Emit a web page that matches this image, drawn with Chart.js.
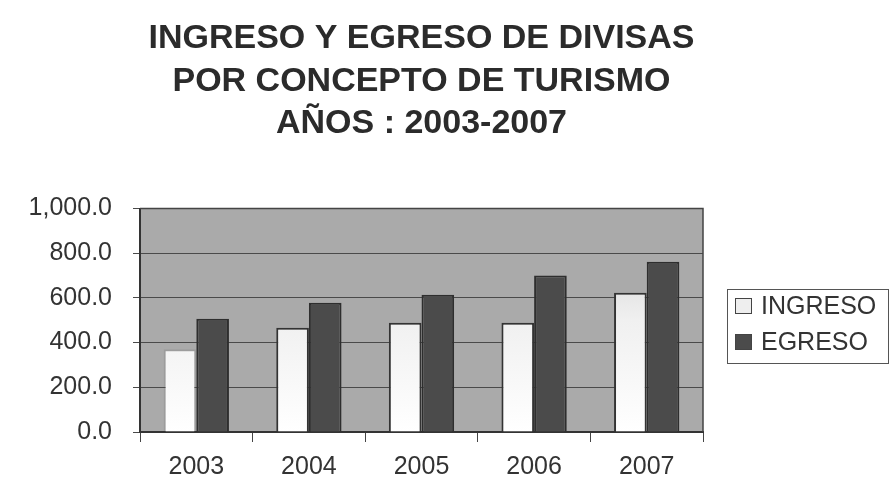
<!DOCTYPE html>
<html>
<head>
<meta charset="utf-8">
<title>Ingreso y egreso de divisas</title>
<script src="https://cdn.jsdelivr.net/npm/chart.js@4"></script>
<style>
  html, body { margin: 0; padding: 0; background: #fff; }
</style>
</head>
<body>
<canvas id="chart" width="894" height="486"></canvas>
<script>
// datos en millones
const years = ['2003', '2004', '2005', '2006', '2007'];
const ingreso = [370, 466, 489, 489, 623];
const egreso = [507, 578, 614, 700, 762];
const titleLines = ['INGRESO Y EGRESO DE DIVISAS', 'POR CONCEPTO DE TURISMO', 'AÑOS : 2003-2007'];

const FONT = '"Liberation Sans", Arial, sans-serif';

// fondo gris del área de trazado y marco
const plotFrame = {
  id: 'plotFrame',
  beforeDraw(chart) {
    const { ctx, chartArea: a } = chart;
    ctx.save();
    ctx.fillStyle = '#aaaaaa';
    ctx.fillRect(a.left, a.top, a.right - a.left, a.bottom - a.top);
    ctx.restore();
  },
  afterDraw(chart) {
    const { ctx, chartArea: a } = chart;
    ctx.save();
    ctx.strokeStyle = '#444';
    ctx.lineWidth = 1.5;
    ctx.beginPath();
    ctx.moveTo(a.left, a.top);
    ctx.lineTo(a.right, a.top);
    ctx.lineTo(a.right, a.bottom);
    ctx.stroke();
    ctx.restore();
  }
};

// leyenda con recuadro a la derecha
const sideLegend = {
  id: 'sideLegend',
  afterDraw(chart) {
    const ctx = chart.ctx;
    ctx.save();
    ctx.strokeStyle = '#555';
    ctx.lineWidth = 1;
    ctx.strokeRect(727.5, 289.5, 161, 74);
    ctx.font = '25px ' + FONT;
    ctx.textBaseline = 'middle';
    chart.data.datasets.forEach((ds, i) => {
      const y = 306 + i * 36;
      ctx.fillStyle = ds.legendFill;
      ctx.fillRect(735, y - 8, 17, 16);
      ctx.strokeStyle = '#444';
      ctx.strokeRect(735.5, y - 7.5, 16, 15);
      ctx.fillStyle = '#333';
      ctx.fillText(ds.label, 761, y + 1);
    });
    ctx.restore();
  }
};

function ingresoFill(context) {
  const a = context.chart.chartArea;
  if (!a) return '#f2f2f2';
  const g = context.chart.ctx.createLinearGradient(0, a.bottom, 0, a.top);
  g.addColorStop(0, '#ffffff');
  g.addColorStop(0.5, '#f0f0f0');
  g.addColorStop(1, '#c8c8c8');
  return g;
}

const ctx = document.getElementById('chart').getContext('2d');
new Chart(ctx, {
  type: 'bar',
  data: {
    labels: years,
    datasets: [{
      label: 'INGRESO',
      data: ingreso,
      backgroundColor: ingresoFill,
      borderColor: ['rgba(80,80,80,0.15)', '#333', '#333', '#333', '#333'],
      borderWidth: 2,
      legendFill: '#eeeeee',
      categoryPercentage: 0.58,
      barPercentage: 1.0
    }, {
      label: 'EGRESO',
      data: egreso,
      backgroundColor: '#4b4b4b',
      borderColor: '#2e2e2e',
      borderWidth: 2,
      legendFill: '#4b4b4b',
      categoryPercentage: 0.58,
      barPercentage: 1.0
    }]
  },
  options: {
    responsive: false,
    animation: false,
    layout: { padding: { left: 0, right: 191, top: 0, bottom: 4 } },
    plugins: {
      legend: { display: false },
      tooltip: { enabled: false },
      title: {
        display: true,
        fullSize: false,
        text: titleLines,
        color: '#2b2b2b',
        font: { family: FONT, size: 34, weight: 'bold', lineHeight: 1.26 },
        padding: { top: 17, bottom: 63 }
      }
    },
    scales: {
      x: {
        afterFit(scale) { scale.height = 50; },
        grid: { drawOnChartArea: false, drawTicks: true, tickLength: 10, color: '#444', offset: true },
        border: { display: true, color: '#333', width: 2 },
        ticks: { color: '#333', padding: 10, font: { family: FONT, size: 25 } }
      },
      y: {
        min: 0,
        max: 1000,
        afterFit(scale) { scale.width = 140; },
        grid: { color: '#4a4a4a', lineWidth: 1, tickLength: 7 },
        border: { display: true, color: '#333', width: 2 },
        ticks: {
          stepSize: 200,
          color: '#333',
          padding: 21,
          font: { family: FONT, size: 25 },
          callback: v => v.toLocaleString('en-US', { minimumFractionDigits: 1, maximumFractionDigits: 1 })
        }
      }
    }
  },
  plugins: [plotFrame, sideLegend]
});
</script>
</body>
</html>
